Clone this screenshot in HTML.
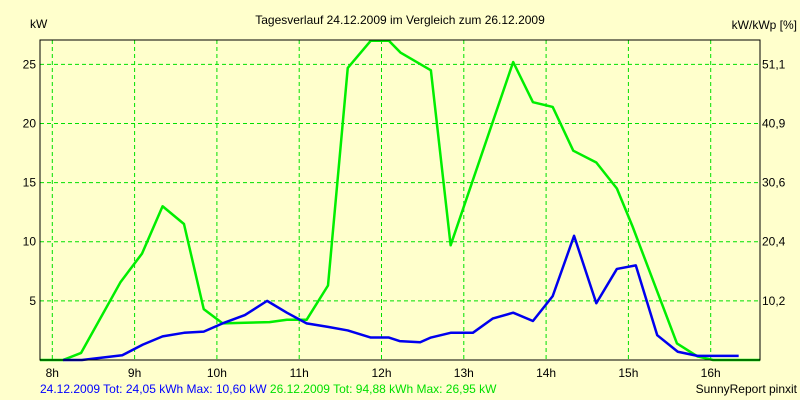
<!DOCTYPE html>
<html><head><meta charset="utf-8"><style>
body{margin:0;background:#ffffcc;}
svg{display:block;font-family:"Liberation Sans",sans-serif;font-size:12px;}
</style></head><body>
<svg id="chart" width="800" height="400">
<rect x="0" y="0" width="800" height="400" fill="#ffffcc"/>
<text x="400" y="24" text-anchor="middle">Tagesverlauf 24.12.2009 im Vergleich zum 26.12.2009</text>
<text x="30" y="28">kW</text>
<text x="797" y="29" text-anchor="end">kW/kWp [%]</text>
<g id="grid"></g>
<g id="series"></g>
<rect x="40" y="40" width="720" height="320" fill="none" stroke="#000" stroke-width="1"/>
<g id="labels"></g>
<text x="40" y="393" fill="#0000ff">24.12.2009 Tot: 24,05 kWh Max: 10,60 kW <tspan fill="#00e000">26.12.2009 Tot: 94,88 kWh Max: 26,95 kW</tspan></text>
<text x="797" y="393" text-anchor="end">SunnyReport pinxit</text>
</svg>
<script>
const hourTicks=[8,9,10,11,12,13,14,15,16];
const hourLabels=["8h","9h","10h","11h","12h","13h","14h","15h","16h"];
const yTicks=[5,10,15,20,25];
const yTickLabels=["5","10","15","20","25"];
const y2TickLabels=["10,2","20,4","30,6","40,9","51,1"];
const greenTimes=[7.85,8.13,8.35,8.83,9.09,9.34,9.60,9.84,10.07,10.34,10.64,10.85,11.09,11.35,11.59,11.87,12.09,12.23,12.60,12.84,13.60,13.84,14.08,14.33,14.61,14.86,15.05,15.59,15.84,16.03,16.6];
const greenValues=[0,0,0.6,6.6,9.0,13.0,11.5,4.3,3.1,3.15,3.2,3.4,3.4,6.3,24.7,27.0,27.0,26.0,24.5,9.7,25.2,21.8,21.4,17.7,16.7,14.5,11.3,1.4,0.3,0,0];
const blueTimes=[8.13,8.36,8.85,9.10,9.34,9.60,9.84,10.07,10.34,10.61,10.85,11.09,11.35,11.59,11.87,12.09,12.22,12.47,12.60,12.84,13.11,13.35,13.60,13.84,14.08,14.34,14.61,14.86,15.09,15.35,15.60,15.84,16.34];
const blueValues=[0,0,0.4,1.3,2.0,2.3,2.4,3.1,3.8,5.0,4.0,3.1,2.8,2.5,1.9,1.9,1.6,1.5,1.9,2.3,2.3,3.5,4.0,3.3,5.4,10.5,4.8,7.7,8.0,2.1,0.7,0.35,0.35];
const yMax=27.06;
const X=h=>52.3+82.3*(h-8);
const Y=v=>360-v*(320/yMax);
const NS="http://www.w3.org/2000/svg";
const grid=document.getElementById('grid'),labels=document.getElementById('labels'),series=document.getElementById('series');
function mk(tag,attrs,parent){const e=document.createElementNS(NS,tag);for(const k in attrs)e.setAttribute(k,attrs[k]);parent.appendChild(e);return e;}
hourTicks.forEach((h,i)=>{
  const l=mk('line',{x1:X(h),x2:X(h),y1:40,y2:360,stroke:'#00e000','stroke-dasharray':'4,3'},grid);
  
  
  const t=mk('text',{x:X(h),y:377,'text-anchor':'middle'},labels);t.textContent=hourLabels[i];
  
  
});
yTicks.forEach((v,i)=>{
  const l=mk('line',{x1:40,x2:760,y1:Y(v),y2:Y(v),stroke:'#00e000','stroke-dasharray':'4,3'},grid);
  
  
  const t=mk('text',{x:36,y:Y(v)+4,'text-anchor':'end'},labels);t.textContent=yTickLabels[i];
  
  
  const t2=mk('text',{x:762,y:Y(v)+4},labels);t2.textContent=y2TickLabels[i];
  
  
});
function line(ts,vs,color,name){
  const p=mk('polyline',{points:ts.map((t,i)=>X(t)+','+Y(vs[i])).join(' '),fill:'none',stroke:color,'stroke-width':2.5,'stroke-linejoin':'round'},series);
  
  
}
line(greenTimes,greenValues,'#00ee00','series-26-12-2009');
line(blueTimes,blueValues,'#0000ee','series-24-12-2009');
</script>
</body></html>
